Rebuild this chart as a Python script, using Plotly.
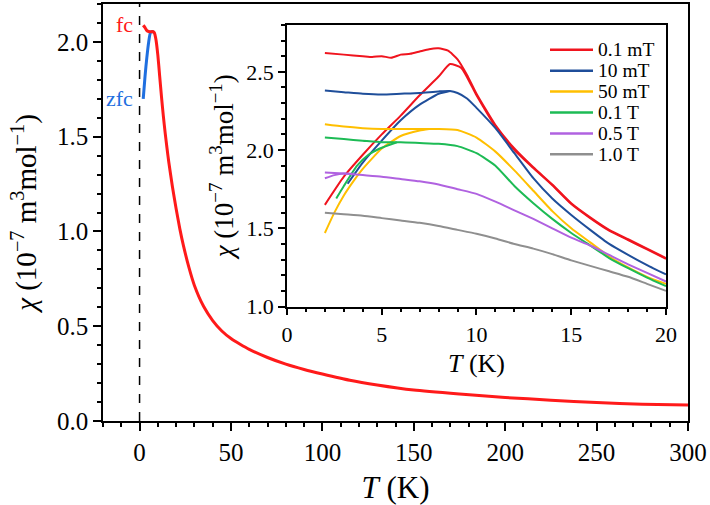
import plotly.graph_objects as go

# ---------------- main panel data ----------------
main_T_fc = [2, 3, 4, 5, 6, 7, 8, 8.5, 9, 10, 11, 12, 13, 14, 15, 16, 18, 20, 22, 24, 27, 30, 35, 40,
             45, 50, 55, 60, 70, 80, 90, 100, 115, 130, 150, 175, 200, 225, 250, 275, 300]
main_chi_fc = [2.088, 2.075, 2.06, 2.055, 2.053, 2.055, 2.05, 2.035, 2.01, 1.93, 1.82, 1.71, 1.61, 1.52,
               1.44, 1.365, 1.235, 1.12, 1.015, 0.925, 0.81, 0.715, 0.605, 0.53, 0.475, 0.435, 0.405,
               0.378, 0.335, 0.30, 0.272, 0.248, 0.215, 0.19, 0.163, 0.142, 0.124, 0.11, 0.097,
               0.089, 0.084]
main_T_zfc = [2, 3, 4, 5, 6, 7, 8]
main_chi_zfc = [1.70, 1.82, 1.92, 2.00, 2.05, 2.055, 2.05]

# ---------------- inset data ----------------
fields = ["0.1 mT", "10 mT", "50 mT", "0.1 T", "0.5 T", "1.0 T"]
colors = ["#F0141E", "#1F4E9A", "#FFBF00", "#1DBB55", "#B062E0", "#8F8F8F"]

T_01mT_fc = [2, 3, 4, 4.5, 5, 5.5, 6, 6.5, 7, 7.5, 8, 8.5, 9, 9.5, 10, 11, 12, 13, 14, 15, 16, 17, 18, 19, 20]
chi_01mT_fc = [2.62, 2.61, 2.60, 2.595, 2.60, 2.59, 2.61, 2.615, 2.63, 2.645, 2.65, 2.635, 2.58, 2.48,
               2.36, 2.16, 2.01, 1.89, 1.78, 1.66, 1.57, 1.49, 1.43, 1.37, 1.31]
T_01mT_zfc = [2, 3, 4, 5, 6, 7, 8, 8.6, 9.2, 10, 11, 12, 13, 14, 15, 16, 17, 18, 19, 20]
chi_01mT_zfc = [1.65, 1.83, 1.97, 2.10, 2.22, 2.35, 2.47, 2.55, 2.525, 2.35, 2.15, 2.0, 1.885, 1.775,
                1.655, 1.565, 1.485, 1.425, 1.365, 1.305]

T_10mT_fc = [2, 3, 4, 5, 6, 7, 8, 8.6, 9, 9.5, 10, 11, 12, 13, 14, 15, 16, 17, 18, 19, 20]
chi_10mT_fc = [2.38, 2.37, 2.36, 2.355, 2.36, 2.365, 2.375, 2.378, 2.365, 2.33, 2.27, 2.14, 1.98, 1.82,
               1.69, 1.585, 1.49, 1.40, 1.33, 1.265, 1.205]
T_10mT_zfc = [3.2, 4, 5, 6, 7, 8, 8.6]
chi_10mT_zfc = [1.785, 1.92, 2.06, 2.19, 2.29, 2.36, 2.378]

T_50mT_fc = [2, 3, 4, 5, 6, 7, 8, 9, 10, 11, 12, 13, 14, 15, 16, 17, 18, 19, 20]
chi_50mT_fc = [2.165, 2.15, 2.14, 2.135, 2.135, 2.135, 2.135, 2.128, 2.08, 1.99, 1.87, 1.74, 1.61,
               1.50, 1.41, 1.32, 1.25, 1.19, 1.145]
T_50mT_zfc = [2, 2.5, 3, 3.5, 4, 5, 6, 7, 7.5]
chi_50mT_zfc = [1.47, 1.60, 1.71, 1.80, 1.88, 2.01, 2.09, 2.125, 2.135]

T_01T_fc = [2, 3, 4, 5, 6, 7, 8, 9, 10, 11, 12, 13, 14, 15, 16, 17, 18, 19, 20]
chi_01T_fc = [2.08, 2.07, 2.06, 2.05, 2.05, 2.045, 2.04, 2.025, 1.98, 1.90, 1.77, 1.66, 1.56, 1.47,
              1.39, 1.31, 1.245, 1.185, 1.13]
T_01T_zfc = [2.6, 3, 3.7, 4.3, 4.9, 5.8]
chi_01T_zfc = [1.69, 1.77, 1.90, 1.97, 2.01, 2.05]

T_05T_fc = [2, 3, 4, 5, 6, 7, 8, 9, 10, 11, 12, 13, 14, 15, 16, 17, 18, 19, 20]
chi_05T_fc = [1.857, 1.85, 1.84, 1.83, 1.815, 1.80, 1.78, 1.75, 1.72, 1.67, 1.615, 1.56, 1.50, 1.44,
              1.39, 1.33, 1.27, 1.215, 1.16]
T_05T_zfc = [2, 2.5, 3, 3.5]
chi_05T_zfc = [1.82, 1.84, 1.85, 1.848]

T_1T = [2, 3, 4, 5, 6, 7, 8, 9, 10, 11, 12, 13, 14, 15, 16, 17, 18, 19, 20]
chi_1T = [1.60, 1.59, 1.58, 1.565, 1.55, 1.535, 1.515, 1.49, 1.465, 1.435, 1.40, 1.37, 1.335, 1.295,
          1.26, 1.225, 1.19, 1.145, 1.10]

FONT = "Liberation Serif"

fig = go.Figure()

# main panel
fig.add_trace(go.Scatter(x=main_T_zfc, y=main_chi_zfc, mode="lines",
                         line=dict(color="#1F6FE0", width=3, shape="spline", smoothing=0.6),
                         showlegend=False))
fig.add_trace(go.Scatter(x=main_T_fc, y=main_chi_fc, mode="lines",
                         line=dict(color="#FF1A1A", width=3, shape="spline", smoothing=0.6),
                         showlegend=False))

# inset
fc_sets = [(T_01mT_fc, chi_01mT_fc), (T_10mT_fc, chi_10mT_fc), (T_50mT_fc, chi_50mT_fc),
           (T_01T_fc, chi_01T_fc), (T_05T_fc, chi_05T_fc), (T_1T, chi_1T)]
zfc_sets = [(T_01mT_zfc, chi_01mT_zfc), (T_10mT_zfc, chi_10mT_zfc), (T_50mT_zfc, chi_50mT_zfc),
            (T_01T_zfc, chi_01T_zfc), (T_05T_zfc, chi_05T_zfc), None]

for i, name in enumerate(fields):
    if zfc_sets[i] is not None:
        fig.add_trace(go.Scatter(x=zfc_sets[i][0], y=zfc_sets[i][1], mode="lines",
                                 line=dict(color=colors[i], width=2, shape="spline", smoothing=0.5),
                                 showlegend=False, xaxis="x2", yaxis="y2"))
for i, name in enumerate(fields):
    fig.add_trace(go.Scatter(x=fc_sets[i][0], y=fc_sets[i][1], mode="lines", name=name,
                             line=dict(color=colors[i], width=2, shape="spline", smoothing=0.5),
                             showlegend=False, xaxis="x2", yaxis="y2"))

# compact legend (inset, top right)
PLOT_L, PLOT_W, PLOT_B, PLOT_H = 103, 585, 421, 419
def px_x(p):
    return (p - PLOT_L) / PLOT_W
def px_y(p):
    return (PLOT_B - p) / PLOT_H

leg_shapes, leg_annots = [], []
for i, name in enumerate(fields):
    yy = px_y(48 + 21 * i)
    leg_shapes.append(dict(type="line", xref="paper", yref="paper", x0=px_x(550), x1=px_x(593),
                           y0=yy, y1=yy, line=dict(color=colors[i], width=2.5)))
    leg_annots.append(dict(text=name, xref="paper", yref="paper", x=px_x(596), y=yy,
                           xanchor="left", yanchor="middle", showarrow=False,
                           font=dict(family=FONT, size=19.5, color="black")))

axis_common = dict(showline=True, linecolor="black", linewidth=1.5, mirror=True,
                   ticks="outside", tickcolor="black", tickwidth=1.5, showgrid=False,
                   zeroline=False)

ytitle = "<i>χ</i> (10<sup>−7</sup> m<sup>3</sup>mol<sup>−1</sup>)"

fig.update_layout(
    width=710, height=505,
    margin=dict(l=103, r=22, t=2, b=84),
    paper_bgcolor="white", plot_bgcolor="white",
    font=dict(family=FONT, color="black"),
    showlegend=False,
    xaxis=dict(domain=[0, 1], range=[-20, 300], tick0=0, dtick=50, ticklen=8,
               minor=dict(dtick=10, ticklen=4, ticks="outside", tickcolor="black", tickwidth=1.5),
               tickfont=dict(family=FONT, size=25),
               title=dict(text="<i>T</i> (K)", font=dict(family=FONT, size=31), standoff=13),
               **axis_common),
    yaxis=dict(domain=[0, 1], range=[0, 2.2], tick0=0, dtick=0.5, tickformat=".1f", ticklen=8,
               minor=dict(dtick=0.1, ticklen=4, ticks="outside", tickcolor="black", tickwidth=1.5),
               tickfont=dict(family=FONT, size=25),
               title=dict(text=ytitle, font=dict(family=FONT, size=29), standoff=12),
               **axis_common),
    xaxis2=dict(domain=[0.3145, 0.9624], range=[0, 20], tick0=0, dtick=5, ticklen=7,
                anchor="y2",
                minor=dict(dtick=1, ticklen=4, ticks="outside", tickcolor="black", tickwidth=1.5),
                tickfont=dict(family=FONT, size=22),
                title=dict(text="<i>T</i> (K)", font=dict(family=FONT, size=26), standoff=8),
                **axis_common),
    yaxis2=dict(domain=[0.2745, 0.9499], range=[1.0, 2.8], tick0=1, dtick=0.5, tickformat=".1f",
                ticklen=7, anchor="x2",
                minor=dict(dtick=0.1, ticklen=4, ticks="outside", tickcolor="black", tickwidth=1.5),
                tickfont=dict(family=FONT, size=22),
                title=dict(text=ytitle, font=dict(family=FONT, size=27), standoff=5),
                **axis_common),
    shapes=[dict(type="line", xref="x", yref="y", x0=0, x1=0, y0=0, y1=2.2,
                 line=dict(color="black", width=1.5, dash="dash"), layer="below")] + leg_shapes,
    annotations=[
        dict(text="fc", x=-2.5, y=2.09, xref="x", yref="y", xanchor="right", yanchor="middle",
             showarrow=False, font=dict(family=FONT, size=22, color="#FF1A1A")),
        dict(text="zfc", x=-2.5, y=1.70, xref="x", yref="y", xanchor="right", yanchor="middle",
             showarrow=False, font=dict(family=FONT, size=22, color="#1F6FE0")),
    ] + leg_annots,
)

fig.write_html("out.html")
